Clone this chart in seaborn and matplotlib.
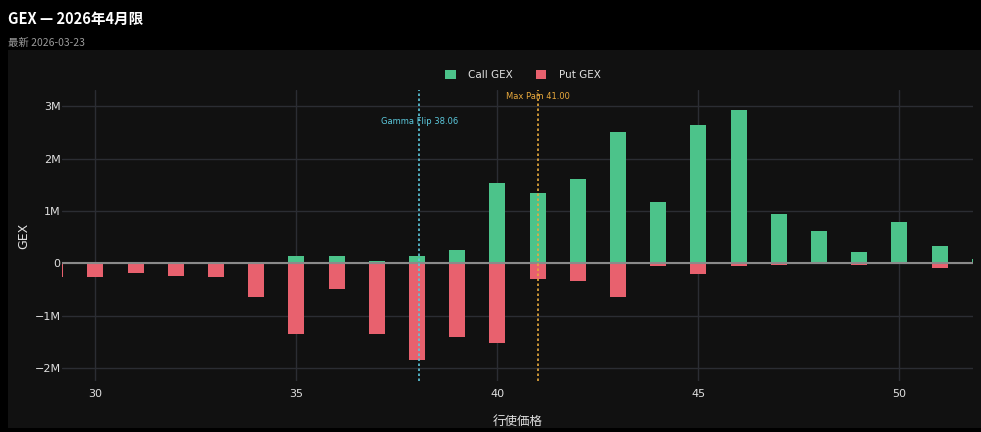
import matplotlib
matplotlib.use("Agg")
import matplotlib.pyplot as plt
import numpy as np
import pandas as pd
import seaborn as sns
from matplotlib.patches import Patch, Rectangle

# strikes and gamma exposure per strike
strikes = [29, 30, 31, 32, 33, 34, 35, 36, 37, 38, 39, 40,
           41, 42, 43, 44, 45, 46, 47, 48, 49, 50, 51, 52]
call_gex = [0.0, 0.02, 0.02, 0.02, 0.02, 0.02, 0.13, 0.13, 0.04, 0.13, 0.25, 1.54,
            1.34, 1.60, 2.50, 1.17, 2.65, 2.92, 0.94, 0.61, 0.22, 0.79, 0.32, 0.08]
put_gex = [-0.27, -0.27, -0.18, -0.24, -0.27, -0.65, -1.35, -0.50, -1.36, -1.85, -1.40, -1.52,
           -0.30, -0.33, -0.64, -0.05, -0.20, -0.05, -0.03, -0.02, -0.03, -0.01, -0.09, 0.0]
gamma_flip = 38.06
max_pain = 41.00

CALL_COLOR = "#4cc38a"
PUT_COLOR = "#e8616e"
FLIP_COLOR = "#5bc8dc"
PAIN_COLOR = "#e9a93c"

sns.set_theme(style="dark")
plt.rcParams["font.family"] = ["DejaVu Sans", "Noto Sans CJK JP"]
CJK = ["Noto Sans CJK JP", "DejaVu Sans"]

df = pd.DataFrame({
    "strike": strikes,
    "call": np.array(call_gex) * 1e6,
    "put": np.array(put_gex) * 1e6,
})

W, H = 981, 432
fig = plt.figure(figsize=(W / 100, H / 100), dpi=100, facecolor="#000000")

# dark card behind the plot
fig.patches.append(Rectangle((8 / W, 1 - 428 / H), (W - 8) / W, (428 - 50) / H,
                             transform=fig.transFigure, facecolor="#111111",
                             edgecolor="none", zorder=-10))

fig.text(8 / W, 1 - 19 / H, "GEX — 2026年4月限", color="white", fontsize=10.5,
         fontweight="bold", va="center", ha="left", family=CJK)
fig.text(8 / W, 1 - 43 / H, "最新 2026-03-23", color="#9a9a9a", fontsize=7.5,
         va="center", ha="left", family=CJK)

left, right, top, bottom = 62, 973, 90, 381
ax = fig.add_axes([left / W, 1 - bottom / H, (right - left) / W, (bottom - top) / H])
ax.set_facecolor("#111111")

sns.barplot(data=df, x="strike", y="call", native_scale=True, width=0.4,
            color=CALL_COLOR, saturation=1, errorbar=None, linewidth=0, ax=ax, zorder=3)
sns.barplot(data=df, x="strike", y="put", native_scale=True, width=0.4,
            color=PUT_COLOR, saturation=1, errorbar=None, linewidth=0, ax=ax, zorder=3)

ax.set_xlim(29.17, 51.83)
ax.set_ylim(-2.25e6, 3.31e6)
ax.set_xticks([30, 35, 40, 45, 50])
ax.set_xticklabels(["30", "35", "40", "45", "50"])
ax.set_yticks([-2e6, -1e6, 0, 1e6, 2e6, 3e6])
ax.set_yticklabels(["−2M", "−1M", "0", "1M", "2M", "3M"])
ax.grid(True, color="#2b2d33", linewidth=1, zorder=0)
ax.set_axisbelow(True)
ax.axhline(0, color="#8a8a8a", linewidth=1.5, zorder=4)
for s in ax.spines.values():
    s.set_visible(False)
ax.tick_params(axis="x", colors="#e0e0e0", labelsize=8, length=0, pad=6)
ax.tick_params(axis="y", colors="#e0e0e0", labelsize=8, length=0, pad=1)

ax.set_xlabel("行使価格", color="#e0e0e0", fontsize=9, labelpad=11, family=CJK)
ax.set_ylabel("GEX", color="#e0e0e0", fontsize=9, labelpad=3)

ax.axvline(gamma_flip, color=FLIP_COLOR, linestyle=(0, (1.5, 1.5)), linewidth=1.2, zorder=5)
ax.axvline(max_pain, color=PAIN_COLOR, linestyle=(0, (1.5, 1.5)), linewidth=1.2, zorder=5)
ax.text(gamma_flip, 0.893, f"Gamma Flip {gamma_flip:.2f}", transform=ax.get_xaxis_transform(),
        color=FLIP_COLOR, fontsize=6, ha="center", va="center", zorder=6)
ax.text(max_pain, 0.976, f"Max Pain {max_pain:.2f}", transform=ax.get_xaxis_transform(),
        color=PAIN_COLOR, fontsize=6, ha="center", va="center", zorder=6)

handles = [Patch(facecolor=CALL_COLOR, edgecolor="none", label="Call GEX"),
           Patch(facecolor=PUT_COLOR, edgecolor="none", label="Put GEX")]
fig.legend(handles=handles, loc="center", bbox_to_anchor=(523 / W, 1 - 75 / H), ncol=2,
           frameon=False, fontsize=7.5, labelcolor="#e0e0e0", handlelength=1.0,
           handleheight=1.0, handletextpad=1.2, columnspacing=2.2)

fig.savefig("out.png", dpi=100, facecolor=fig.get_facecolor())
